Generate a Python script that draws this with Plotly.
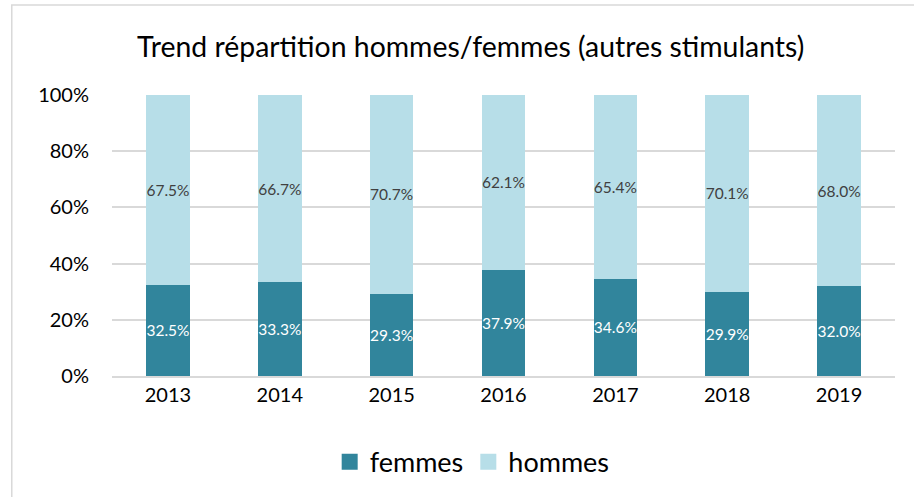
import plotly.graph_objects as go

years = ["2013", "2014", "2015", "2016", "2017", "2018", "2019"]
femmes = [32.5, 33.3, 29.3, 37.9, 34.6, 29.9, 32.0]
hommes = [67.5, 66.7, 70.7, 62.1, 65.4, 70.1, 68.0]
ytick_vals = [0, 20, 40, 60, 80, 100]
ytick_text = ["0%", "20%", "40%", "60%", "80%", "100%"]

FONT = "Lato, Carlito, Open Sans, sans-serif"
C_F = "#31859C"
C_H = "#B7DEE8"

fig = go.Figure()
fig.add_trace(go.Bar(
    x=years, y=femmes, name="femmes", marker_color=C_F, marker_line_width=0, showlegend=False,
    text=[f"{v:.1f}%" for v in femmes], textposition="inside", insidetextanchor="middle",
    constraintext="none", cliponaxis=False,
    textfont=dict(color="white", size=15.5, family=FONT), textangle=0, hoverinfo="skip",
))
fig.add_trace(go.Bar(
    x=years, y=hommes, name="hommes", marker_color=C_H, marker_line_width=0, showlegend=False,
    text=[f"{v:.1f}%" for v in hommes], textposition="inside", insidetextanchor="middle",
    constraintext="none", cliponaxis=False,
    textfont=dict(color="#404040", size=15.5, family=FONT), textangle=0, hoverinfo="skip",
))
# legend entries with larger square swatches
for nm, col in [("femmes", C_F), ("hommes", C_H)]:
    fig.add_trace(go.Scatter(x=[None], y=[None], mode="markers", name=nm,
                             marker=dict(symbol="square", size=16, color=col)))

fig.update_layout(
    barmode="stack",
    bargap=0.61,
    width=914, height=497,
    paper_bgcolor="white", plot_bgcolor="white",
    margin=dict(l=112, r=19, t=95, b=120),
    title=dict(text="Trend répartition hommes/femmes (autres stimulants)",
               x=0.515, xanchor="center", y=0.905, yanchor="middle",
               font=dict(family=FONT, size=28.4, color="#000000")),
    font=dict(family=FONT, color="#000000"),
    xaxis=dict(tickfont=dict(size=20, color="#000"), showline=True, linecolor="#D9D9D9",
               linewidth=1.5, ticks="", showgrid=False),
    yaxis=dict(range=[0, 100], tickvals=ytick_vals, ticktext=ytick_text,
               tickfont=dict(size=20, color="#000"), showgrid=True, gridcolor="#D9D9D9",
               gridwidth=1.5, zeroline=False, ticks="outside", ticklen=18,
               tickcolor="rgba(0,0,0,0)"),
    legend=dict(orientation="h", x=0.46, xanchor="center", y=-0.215, yanchor="top",
                font=dict(size=27, color="#000"), traceorder="normal"),
    uniformtext=dict(mode=False),
    shapes=[dict(type="rect", xref="paper", yref="paper", x0=-0.128, x1=1.2, y0=-0.5, y1=1.32,
                 line=dict(color="#D9D9D9", width=1.5), fillcolor="rgba(0,0,0,0)", layer="below")],
)

fig.write_html("out.html", config={"displayModeBar": False},
               post_script="document.body.style.margin='0';")
